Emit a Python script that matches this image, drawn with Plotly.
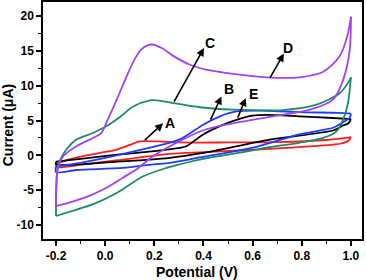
import plotly.graph_objects as go

# ---- data (potential V, current uA) ----
# D (purple)
D_fwd_x = [-0.2, -0.199, -0.193, -0.17, -0.117, -0.05, -0.016, 0.01, 0.047, 0.087, 0.12, 0.15, 0.19, 0.23, 0.28, 0.345, 0.41, 0.52, 0.656, 0.79, 0.887, 0.954, 0.988, 1.0]
D_fwd_y = [-7.3, -4.5, -2.0, -0.1, 1.3, 2.5, 3.2, 5.1, 8.0, 11.3, 13.8, 15.3, 15.9, 15.4, 14.2, 13.0, 12.3, 11.7, 11.2, 11.2, 12.0, 14.2, 17.5, 19.9]
D_rev_x = [1.0, 0.995, 0.968, 0.927, 0.833, 0.7, 0.55, 0.4, 0.29, 0.196, 0.128, 0.072, 0.018, -0.05, -0.12, -0.2]
D_rev_y = [19.9, 15.1, 10.8, 8.0, 6.55, 5.7, 4.8, 3.6, 1.8, -0.1, -2.0, -3.2, -4.4, -5.6, -6.5, -7.3]

# C (green)
C_fwd_x = [-0.2, -0.199, -0.192, -0.158, -0.117, -0.05, 0.006, 0.06, 0.114, 0.182, 0.21, 0.277, 0.385, 0.52, 0.724, 0.86, 0.954, 0.988, 1.0]
C_fwd_y = [-8.7, -5.0, -1.5, 0.83, 2.26, 3.2, 4.2, 5.5, 7.0, 7.9, 7.9, 7.5, 6.9, 6.55, 6.5, 7.27, 8.9, 10.4, 11.2]
C_rev_x = [1.0, 0.988, 0.968, 0.941, 0.887, 0.79, 0.656, 0.6, 0.385, 0.29, 0.25, 0.155, 0.047, -0.048, -0.1, -0.2]
C_rev_y = [11.2, 7.5, 5.1, 3.45, 2.5, 1.8, 1.1, 0.7, -0.6, -1.4, -1.8, -3.0, -5.4, -7.0, -7.6, -8.7]

# B (blue)
B_fwd_x = [-0.2, -0.09, 0.047, 0.182, 0.304, 0.399, 0.467, 0.534, 0.656, 0.79, 0.95, 1.0]
B_fwd_y = [-1.6, -1.0, 0.0, 1.1, 2.3, 4.4, 5.6, 6.3, 6.4, 6.2, 6.1, 6.0]
B_rev_x = [1.0, 0.995, 0.96, 0.93, 0.79, 0.602, 0.385, 0.263, 0.196, 0.072, -0.117, -0.2, -0.2]
B_rev_y = [6.0, 5.4, 4.6, 4.0, 3.0, 1.1, -0.3, -1.08, -1.3, -1.8, -2.1, -2.4, -1.6]

# E (black)
E_fwd_x = [-0.2, -0.1, 0.05, 0.2, 0.304, 0.33, 0.399, 0.467, 0.534, 0.6, 0.656, 0.79, 0.927, 1.0]
E_fwd_y = [-0.9, -0.5, 0.1, 0.6, 1.07, 1.3, 3.0, 4.2, 5.1, 5.7, 5.8, 5.6, 5.36, 5.2]
E_rev_x = [1.0, 0.99, 0.968, 0.93, 0.67, 0.399, 0.263, 0.05, -0.2, -0.2]
E_rev_y = [5.2, 4.6, 4.3, 3.6, 2.26, 0.35, -0.36, -0.9, -1.3, -0.9]

# A (red)
A_fwd_x = [-0.2, -0.15, -0.09, 0.0, 0.047, 0.1, 0.141, 0.22, 0.3, 0.5, 0.7, 0.9, 0.98, 1.0]
A_fwd_y = [-1.2, -0.6, -0.1, 0.5, 0.83, 1.5, 2.0, 2.0, 1.85, 1.85, 1.9, 2.2, 2.5, 2.6]
A_rev_x = [1.0, 0.99, 0.96, 0.927, 0.67, 0.4, 0.263, 0.05, -0.09, -0.19, -0.2, -0.2]
A_rev_y = [2.6, 2.1, 1.7, 1.55, 0.93, 0.45, 0.2, -0.7, -1.3, -1.7, -1.5, -1.2]

# labels with arrows: tail on curve, head, text position
labels = ["A", "B", "C", "D", "E"]
tail_x = [0.155, 0.426, 0.277, 0.667, 0.537]
tail_y = [2.0, 4.9, 7.5, 10.9, 5.2]
head_x = [0.236, 0.473, 0.402, 0.727, 0.572]
head_y = [4.6, 8.46, 15.4, 14.6, 8.2]
text_x = [0.265, 0.505, 0.425, 0.745, 0.602]
text_y = [4.6, 9.5, 16.1, 15.4, 8.85]

x_ticks = [-0.2, 0.0, 0.2, 0.4, 0.6, 0.8, 1.0]
x_tick_labels = ["-0.2", "0.0", "0.2", "0.4", "0.6", "0.8", "1.0"]
y_ticks = [-10, -5, 0, 5, 10, 15, 20]
y_tick_labels = ["-10", "-5", "0", "5", "10", "15", "20"]
x_title = "Potential (V)"
y_title = "Current (μA)"

series = [
    (A_fwd_x, A_fwd_y, A_rev_x, A_rev_y, "#FF1E1E"),
    (E_fwd_x, E_fwd_y, E_rev_x, E_rev_y, "#000000"),
    (B_fwd_x, B_fwd_y, B_rev_x, B_rev_y, "#1E3CFF"),
    (C_fwd_x, C_fwd_y, C_rev_x, C_rev_y, "#1D8A68"),
    (D_fwd_x, D_fwd_y, D_rev_x, D_rev_y, "#A342F0"),
]

fig = go.Figure()
for fx, fy, rx, ry, col in series:
    for xs, ys in ((fx, fy), (rx, ry)):
        fig.add_trace(go.Scatter(x=xs, y=ys, mode="lines",
                                 line=dict(color=col, width=1.8, shape="spline", smoothing=0.8),
                                 showlegend=False, hoverinfo="skip"))

FONT = "Liberation Sans, Arial, sans-serif"
for lab, tx, ty, hx, hy, lx, ly in zip(labels, tail_x, tail_y, head_x, head_y, text_x, text_y):
    fig.add_annotation(x=hx, y=hy, ax=tx, ay=ty, xref="x", yref="y", axref="x", ayref="y",
                       text="", showarrow=True, arrowhead=2, arrowsize=1.0, arrowwidth=1.6,
                       arrowcolor="black")
    fig.add_annotation(x=lx, y=ly, xref="x", yref="y", text="<b>%s</b>" % lab, showarrow=False,
                       font=dict(family=FONT, size=14, color="black"))

# axis titles placed manually
fig.add_annotation(x=0.483, y=0, xref="paper", yref="paper", yshift=-33, text="<b>%s</b>" % x_title,
                   showarrow=False, xanchor="center", yanchor="middle",
                   font=dict(family=FONT, size=14, color="black"))
fig.add_annotation(x=0, y=0.48, xref="paper", yref="paper", xshift=-35, text="<b>%s</b>" % y_title,
                   showarrow=False, textangle=-90, xanchor="center", yanchor="middle",
                   font=dict(family=FONT, size=14, color="black"))

axis_common = dict(showgrid=False, zeroline=False, showline=True, linecolor="black",
                   linewidth=1.5, mirror=True, ticks="outside", ticklen=5, tickwidth=1.5,
                   tickcolor="black", automargin=False,
                   tickfont=dict(family=FONT, size=12, color="black"))

fig.update_xaxes(range=[-0.253, 1.045], tickmode="array", tickvals=x_ticks,
                 ticktext=["<b>%s</b>" % t for t in x_tick_labels], ticklabelstandoff=0,
                 minor=dict(ticks="outside", ticklen=3, tickwidth=1.2, tickcolor="black",
                            tickmode="linear", tick0=-0.1, dtick=0.2),
                 **axis_common)
fig.update_yaxes(range=[-12, 22], tickmode="array", tickvals=y_ticks,
                 ticktext=["<b>%s</b>" % t for t in y_tick_labels],
                 minor=dict(ticks="outside", ticklen=3, tickwidth=1.2, tickcolor="black",
                            tickmode="linear", tick0=-7.5, dtick=5),
                 **axis_common)

fig.update_layout(width=366, height=280, margin=dict(l=43, r=4, t=2, b=41, autoexpand=False),
                  paper_bgcolor="white", plot_bgcolor="white")

fig.write_html("out.html", config={"displayModeBar": False},
               post_script="document.body.style.margin='0';document.body.style.overflow='hidden';")
